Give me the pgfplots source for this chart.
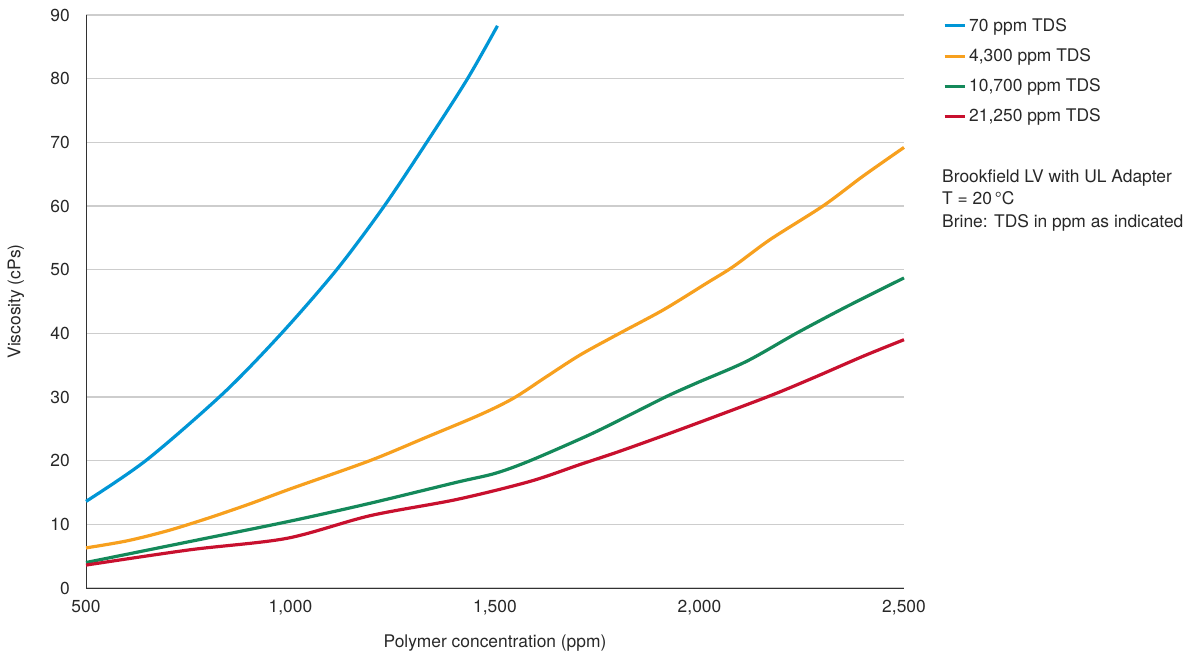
\documentclass[border=0pt]{standalone}
\usepackage{fontspec}
\setmainfont{TeX Gyre Heros}
\usepackage{pgfplots}
\pgfplotsset{compat=1.18}
\definecolor{cblue}{RGB}{0,150,214}
\definecolor{corange}{RGB}{247,160,30}
\definecolor{cgreen}{RGB}{20,137,90}
\definecolor{cred}{RGB}{200,16,46}
\definecolor{gridgray}{RGB}{205,205,205}
\definecolor{axisgray}{RGB}{50,50,50}
\definecolor{textgray}{RGB}{40,40,40}
\begin{document}
\fontsize{17.4bp}{20bp}\selectfont
\begin{tikzpicture}
\useasboundingbox (0,0) rectangle (1187bp,659bp);
\begin{axis}[
  at={(86bp,71bp)}, anchor=south west,
  scale only axis, width=818bp, height=573bp,
  xmin=500, xmax=2500, ymin=0, ymax=90,
  axis lines=left,
  axis line style={draw=axisgray, line width=1bp, -},
  xtick={500,1000,1500,2000,2500},
  xticklabels={500,{1,000},{1,500},{2,000},{2,500}},
  ytick={0,10,...,90},
  ymajorgrids,
  grid style={draw=gridgray, line width=1.3bp},
  major tick length=0pt,
  /pgf/number format/assume math mode=true,
  tick label style={font=\fontsize{17.4bp}{20bp}\selectfont, text=textgray},
  yticklabel style={inner sep=0pt, xshift=-16bp},
  xticklabel style={inner sep=0pt, yshift=-12bp},
  xlabel={Polymer concentration (ppm)},
  ylabel={Viscosity (cPs)},
  label style={font=\fontsize{17.4bp}{20bp}\selectfont, text=textgray},
  xlabel style={at={(axis description cs:0.5,-0.096)}, anchor=center},
  ylabel style={at={(axis description cs:-0.0856,0.5)}, anchor=center},
  clip=false,
  legend cell align=left,
  legend image code/.code={\draw[#1, line width=3bp] (0bp,0bp) -- (20bp,0bp);},
  legend style={at={(axis description cs:1.0477,1.0)}, anchor=north west,
    draw=none, fill=none, inner sep=0pt, row sep=8.6bp,
    font=\fontsize{17.4bp}{20bp}\selectfont, text=textgray,
    nodes={inner sep=3bp}},
  every axis plot/.append style={line width=3.2bp, smooth, tension=0.5, no markers},
]
\addplot[cblue] coordinates {
(500,13.6) (648,20.1) (836,30.6) (978,40.0) (1113,50.0) (1227,59.8) (1329,69.6) (1431,79.8) (1506,88.3)};
\addlegendentry{70 ppm TDS}
\addplot[corange] coordinates {
(500,6.3) (600,7.4) (700,9.0) (800,11.0) (900,13.2) (999,15.55) (1194,20.0) (1333,23.7) (1463,27.2) (1545,29.8) (1626,33.2) (1708,36.6) (1806,40.05) (1912,43.7) (2018,47.9) (2083,50.5) (2172,54.7) (2303,60.05) (2400,64.7) (2500,69.2)};
\addlegendentry{4,300 ppm TDS}
\addplot[cgreen] coordinates {
(500,4.0) (754,7.3) (999,10.5) (1194,13.3) (1406,16.6) (1500,18.0) (1586,20.0) (1732,24.1) (1830,27.2) (1920,30.1) (1993,32.2) (2115,35.6) (2238,40.05) (2360,44.2) (2500,48.7)};
\addlegendentry{10,700 ppm TDS}
\addplot[cred] coordinates {
(500,3.6) (754,6.0) (991,7.8) (1194,11.35) (1406,13.9) (1586,16.75) (1708,19.4) (1806,21.5) (1953,24.9) (2165,30.0) (2278,33.0) (2400,36.4) (2500,39.0)};
\addlegendentry{21,250 ppm TDS}
\node[anchor=north west, align=left, inner sep=0pt, text=textgray,
  font=\fontsize{17.4bp}{22.5bp}\selectfont]
  at (axis description cs:1.0465,0.731)
  {Brookfield LV with UL Adapter\\T = 20\,°C\\Brine: TDS in ppm as indicated};
\end{axis}
\end{tikzpicture}
\end{document}
